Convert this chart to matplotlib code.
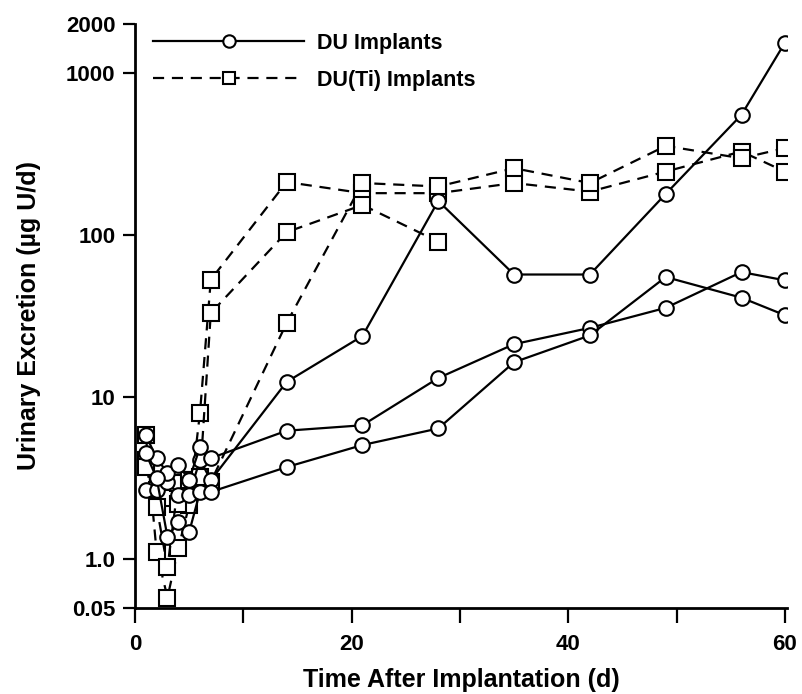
import matplotlib
matplotlib.use("Agg")
import matplotlib.pyplot as plt
from matplotlib.lines import Line2D

# days sampled
days_all = [1, 2, 3, 4, 5, 6, 7, 14, 21, 28, 35, 42, 49, 56, 60]
days_short = [1, 2, 3, 4, 5, 6, 7, 14, 21, 28]

# DU implants (circles, solid)
du_a = [2.67, 2.67, 3.0, 2.5, 2.5, 4.1, 3.07, 12.4, 23.8, 162, 57, 57, 179, 551, 1530]
du_b = [5.8, 4.2, 3.4, 3.8, 3.1, 4.9, 4.2, 6.2, 6.7, 13.1, 21.2, 26.7, 35.5, 59, 52.5]
du_c = [4.5, 3.16, 1.37, 1.7, 1.47, 2.6, 2.6, 3.7, 5.06, 6.4, 16.4, 24, 55, 41, 32]

# DU(Ti) implants (squares, dashed)
ti_a = [5.8, 1.1, 0.58, 1.17, 2.15, 8.0, 53, 212, 181, 181, 209, 185, 246, 327, 246]
ti_b = [3.7, 2.1, 0.89, 2.95, 3.07, 3.2, 33, 104, 153, 91]
ti_c = [4.1, 2.67, 2.38, 2.2, 3.07, 2.9, 3.0, 28.6, 209, 199, 258, 209, 354, 297, 343]

yticks = [0.5, 1, 10, 100, 1000, 2000]
ytick_labels = ["0.05", "1.0", "10", "100", "1000", "2000"]
xticks = [0, 10, 20, 30, 40, 50, 60]
xtick_labels = ["0", "", "20", "", "40", "", "60"]

plt.rcParams['font.family'] = ['Liberation Sans Narrow', 'Liberation Sans', 'DejaVu Sans']
plt.rcParams['font.weight'] = 'bold'

fig = plt.figure(figsize=(8.02, 6.94), dpi=100)
ax = fig.add_axes([135 / 802, 1 - 608 / 694, 652 / 802, 584 / 694])

circ = dict(color='black', lw=1.6, marker='o', ms=10.5, mfc='white', mec='black', mew=1.5)
sq = dict(color='black', lw=1.6, ls=(0, (5, 3.5)), marker='s', ms=11, mfc='white', mec='black', mew=1.5)

for ys in (ti_a, ti_c):
    ax.plot(days_all, ys, **sq)
ax.plot(days_short, ti_b, **sq)
for ys in (du_a, du_b, du_c):
    ax.plot(days_all, ys, **circ)

ax.set_yscale('log')
ax.set_xlim(0, 60.2)
ax.set_ylim(0.5, 2000)
ax.set_yticks(yticks)
ax.set_yticklabels(ytick_labels)
ax.yaxis.set_minor_locator(matplotlib.ticker.NullLocator())
ax.set_xticks(xticks)
ax.set_xticklabels(xtick_labels)

ax.spines['top'].set_visible(False)
ax.spines['right'].set_visible(False)
for s in ('left', 'bottom'):
    ax.spines[s].set_linewidth(2)
ax.tick_params(axis='x', direction='out', length=11, width=1.6, labelsize=16, pad=8)
ax.tick_params(axis='y', direction='out', length=9, width=1.6, labelsize=16, pad=5)

ax.set_xlabel('Time After Implantation (d)', fontsize=18, fontweight='bold', labelpad=9)
ax.set_ylabel('Urinary Excretion (\u00b5g U/d)', fontsize=18, fontweight='bold', labelpad=18)

handles = [Line2D([], [], **circ), Line2D([], [], **sq)]
ax.legend(handles, ['DU Implants', 'DU(Ti) Implants'], loc='upper left',
          bbox_to_anchor=(-0.005, 1.022), frameon=False, handlelength=7.0,
          handletextpad=0.6, labelspacing=0.75, prop={'size': 15.5, 'weight': 'bold'},
          markerscale=0.85, borderaxespad=0.6)

fig.savefig('out.png', dpi=100)
